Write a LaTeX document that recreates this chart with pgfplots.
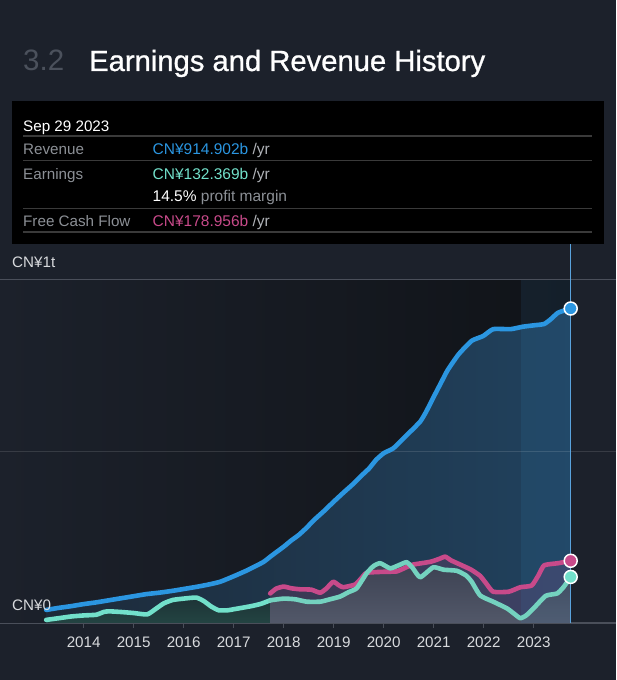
\documentclass[border=0pt]{standalone}
\usepackage{fontspec}
\setmainfont{Liberation Sans}
\newfontfamily\titlefont[FakeBold=0.9]{Liberation Sans}
\usepackage{pgfplots}
\pgfplotsset{compat=1.18}
\usepackage{pgfplotstable}
\definecolor{pagebg}{HTML}{1C212B}
\definecolor{darkbg}{HTML}{101318}
\definecolor{revc}{HTML}{2B96E1}
\definecolor{earnc}{HTML}{72E0CA}
\definecolor{fcfc}{HTML}{C84A8A}
\definecolor{axisc}{HTML}{4A4F5A}
\definecolor{tickc}{HTML}{D8DADD}
\definecolor{numc}{HTML}{4B515C}
\definecolor{labc}{HTML}{8C9096}
\definecolor{yrc}{HTML}{B0B3B8}
\definecolor{sepc}{HTML}{3A3A3A}
\definecolor{vlinec}{HTML}{5AA3DD}
\definecolor{hlc}{HTML}{3A8FD0}
\definecolor{greyA}{HTML}{3C4152}
\definecolor{greyB}{HTML}{525869}
\definecolor{tealA}{HTML}{1D3336}
\definecolor{tealB}{HTML}{234442}

\pgfplotstableread{
x y
2013.25 38
2013.5 44
2013.75 49
2014.0 55
2014.25 60
2014.5 66
2014.75 72
2015.0 78
2015.25 84
2015.5 88
2015.75 93
2016.0 99
2016.25 105
2016.5 112
2016.73 120
2017.0 136
2017.25 152
2017.43 165
2017.6 178
2017.75 195
2018.0 222
2018.15 240
2018.3 256
2018.45 276
2018.61 300
2018.8 325
2019.0 353
2019.2 380
2019.4 406
2019.55 428
2019.71 450
2019.85 475
2020.0 494
2020.19 508
2020.36 532
2020.5 552
2020.73 586
2020.85 615
2021.0 658
2021.15 700
2021.28 736
2021.5 782
2021.76 821
2021.99 835
2022.19 855
2022.54 855
2022.78 862
2023.0 866
2023.21 870
2023.35 885
2023.49 903
2023.74 915
}\revenue

\pgfplotstableread{
x y
2013.25 9
2013.5 14
2013.75 19
2014.0 22
2014.25 24
2014.4 32
2014.5 34
2014.75 32
2015.0 29
2015.27 25
2015.45 42
2015.6 57
2015.78 67
2016.0 71
2016.25 74
2016.4 64
2016.55 48
2016.7 37
2016.88 37
2017.0 40
2017.35 49
2017.55 56
2017.73 66
}\earnA

\pgfplotstableread{
x y
2017.73 66
2018.0 71
2018.23 69
2018.46 62
2018.73 62
2018.9 68
2019.13 77
2019.3 90
2019.46 101
2019.66 145
2019.8 166
2019.93 174
2020.13 159
2020.3 168
2020.46 177
2020.58 160
2020.73 133
2020.99 162
2021.2 155
2021.46 152
2021.65 138
2021.76 120
2021.93 80
2022.19 62
2022.46 43
2022.6 28
2022.73 14
2022.85 22
2023.0 43
2023.24 79
2023.47 86
2023.6 105
2023.74 134
}\earnB

\pgfplotstableread{
x y
2017.73 86
2017.85 100
2018.0 106
2018.15 101
2018.33 98
2018.55 97
2018.73 88
2018.85 100
2018.99 120
2019.1 110
2019.19 104
2019.43 112
2019.55 130
2019.66 146
2020.0 149
2020.26 150
2020.45 162
2020.59 170
2020.93 178
2021.1 186
2021.23 193
2021.35 182
2021.53 170
2021.75 155
2021.93 137
2022.05 115
2022.19 91
2022.5 91
2022.73 104
2022.96 109
2023.1 140
2023.21 168
2023.49 174
2023.74 181
}\fcf

\begin{document}
\begin{tikzpicture}
\useasboundingbox (0pt,0pt) rectangle (616pt,680pt);
\fill[pagebg] (0pt,0pt) rectangle (616pt,680pt);

% title
\node[anchor=base west, inner sep=0pt, text=numc] at (23pt,609pt) {\fontsize{29.5}{32}\selectfont 3.2};
\node[anchor=base west, inner sep=0pt, text=white] at (89pt,609pt) {\titlefont\fontsize{29.2}{32}\selectfont Earnings and Revenue History};

\begin{axis}[
  at={(0pt,57pt)}, anchor=south west, scale only axis,
  width=616pt, height=343.7pt,
  xmin=2012.326, xmax=2024.646, ymin=0, ymax=1000,
  axis x line*=bottom, axis y line=none,
  x axis line style={draw=axisc, line width=1.2pt},
  xtick={2014,2015,2016,2017,2018,2019,2020,2021,2022,2023},
  xticklabels={2014,2015,2016,2017,2018,2019,2020,2021,2022,2023},
  ytick=\empty,
  tick align=outside, major tick length=5pt,
  xtick style={draw=axisc, line width=1.2pt},
  xticklabel style={font=\fontsize{15.2}{18}\selectfont, text=tickc, anchor=base, inner sep=0pt},
  every x tick label/.append style={yshift=-19.5pt},
  /pgf/number format/assume math mode=true,
  clip=false,
]
\fill[left color=pagebg, right color=darkbg] (axis cs:2012.326,0) rectangle (axis cs:2023.74,1000);
% revenue area
\addplot[draw=none, left color=pagebg!92!revc, right color=revc!28!pagebg, smooth, tension=0.3] table[x=x,y=y]{\revenue} \closedcycle;
% fcf area
\addplot[draw=none, fill=fcfc, fill opacity=0.17, smooth, tension=0.3] table[x=x,y=y]{\fcf} \closedcycle;
% earnings area
\addplot[draw=none, top color=tealA, bottom color=tealB, smooth, tension=0.3] table[x=x,y=y]{\earnA} \closedcycle;
\addplot[draw=none, top color=greyA, bottom color=greyB, smooth, tension=0.3] table[x=x,y=y]{\earnB} \closedcycle;
% highlight column
\fill[hlc, fill opacity=0.1] (axis cs:2022.74,0) rectangle (axis cs:2023.74,1000);
% gridlines
\draw[white, opacity=0.12, line width=1pt] (axis cs:2012.326,500) -- (axis cs:2024.646,500);
\draw[axisc, line width=1.2pt] (axis cs:2012.326,1000) -- (axis cs:2024.646,1000);
% lines
\addplot[revc, line width=4.6pt, line join=round, line cap=round, smooth, tension=0.3] table[x=x,y=y]{\revenue};
\addplot[fcfc, line width=4.6pt, line join=round, line cap=round, smooth, tension=0.3] table[x=x,y=y]{\fcf};
\addplot[earnc, line width=4.6pt, line join=round, line cap=round, smooth, tension=0.3] table[x=x,y=y]{\earnA};
\addplot[earnc!85!gray, line width=4.6pt, line join=round, line cap=round, smooth, tension=0.3] table[x=x,y=y]{\earnB};
% vertical line
\draw[vlinec, line width=1.5pt] (axis cs:2023.74,0) -- (axis cs:2023.74,1102.7);
% end markers
\addplot[only marks, mark=*, mark size=6.5pt, mark options={fill=revc, draw=white, line width=1.5pt}] coordinates {(2023.74,915)};
\addplot[only marks, mark=*, mark size=6.5pt, mark options={fill=fcfc, draw=white, line width=1.5pt}] coordinates {(2023.74,181)};
\addplot[only marks, mark=*, mark size=6.5pt, mark options={fill=earnc, draw=white, line width=1.5pt}] coordinates {(2023.74,134)};
\end{axis}

% tooltip box
\fill[black] (12pt,436pt) rectangle (604pt,579pt);
\foreach \yy in {544,519.3,471.7,448} {\draw[sepc, line width=1.2pt] (23pt,\yy pt) -- (592pt,\yy pt);}
\node[anchor=base west, inner sep=0pt, text=white] at (23pt,548.6pt) {\fontsize{15.2}{18}\selectfont Sep 29 2023};
\node[anchor=base west, inner sep=0pt, text=labc] at (23pt,525.3pt) {\fontsize{15.2}{18}\selectfont Revenue};
\node[anchor=base west, inner sep=0pt, text=labc] at (23pt,500.6pt) {\fontsize{15.2}{18}\selectfont Earnings};
\node[anchor=base west, inner sep=0pt, text=labc] at (23pt,453.6pt) {\fontsize{15.2}{18}\selectfont Free Cash Flow};
\node[anchor=base west, inner sep=0pt] at (152.5pt,525.3pt) {\fontsize{15.5}{18}\selectfont\textcolor{revc}{CN¥914.902b} \textcolor{yrc}{/yr}};
\node[anchor=base west, inner sep=0pt] at (152.5pt,500.6pt) {\fontsize{15.5}{18}\selectfont\textcolor{earnc}{CN¥132.369b} \textcolor{yrc}{/yr}};
\node[anchor=base west, inner sep=0pt] at (152.5pt,478pt) {\fontsize{15.5}{18}\selectfont\textcolor{white}{14.5\%} \textcolor{labc}{profit margin}};
\node[anchor=base west, inner sep=0pt] at (152.5pt,453.6pt) {\fontsize{15.5}{18}\selectfont\textcolor{fcfc}{CN¥178.956b} \textcolor{yrc}{/yr}};

% y labels
\node[anchor=base west, inner sep=0pt, text=tickc] at (12pt,412.6pt) {\fontsize{15.2}{18}\selectfont CN¥1t};
\node[anchor=base west, inner sep=0pt, text=tickc] at (12pt,69pt) {\fontsize{15.2}{18}\selectfont CN¥0};
\end{tikzpicture}
\end{document}
